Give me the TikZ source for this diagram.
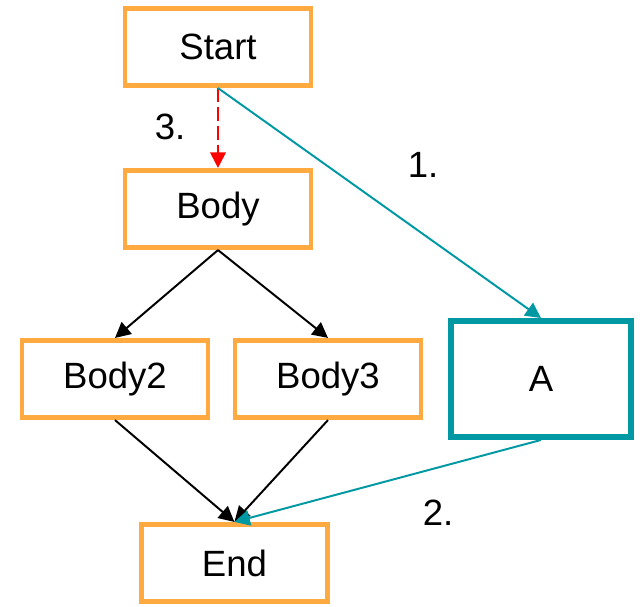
\documentclass[tikz,border=0pt]{standalone}
\usepackage{fontspec}
\setmainfont{Liberation Sans}
\usetikzlibrary{arrows.meta}
\definecolor{boxorange}{RGB}{255,170,64}
\definecolor{lineteal}{RGB}{0,153,163}
\tikzset{
  stepbox/.style={draw=boxorange, line width=3.5pt, rectangle, minimum width=4.65cm, minimum height=1.93cm, font=\fontsize{26}{30}\selectfont},
  flow/.style={line width=1.4pt, -{Triangle[length=11pt,width=11pt]}},
}
\begin{document}
\begin{tikzpicture}

    % 画布范围
    \useasboundingbox (0,0) rectangle (16.05,-15.15);

    % 画方框
    \node[stepbox] (start) at (5.45,-1.175) {Start};
    \node[stepbox] (body) at (5.45,-5.225) {Body};
    \node[stepbox] (body2) at (2.875,-9.475) {Body2};
    \node[stepbox] (body3) at (8.2,-9.475) {Body3};
    \node[stepbox] (end) at (5.86,-14.075) {End};
    \node[stepbox, draw=lineteal, line width=4.2pt, minimum width=4.5cm, minimum height=2.9cm] (a) at (13.525,-9.475) {A};

    % 画箭头
    \draw[flow, red, dash pattern=on 10pt off 3.5pt] (start.south) -- (body.north);
    \draw[flow] (body.south) -- (body2.north);
    \draw[flow] (body.south) -- (body3.north);
    \draw[flow] (body2.south) -- (end.north);
    \draw[flow] (body3.south) -- (end.north);
    \draw[flow, lineteal] (start.south) -- (a.north);
    \draw[flow, lineteal] (a.south) -- (end.north);

    % 插入文字
    \node[font=\fontsize{26}{30}\selectfont] (n3) at (4.25,-3.175) {3.};
    \node[font=\fontsize{26}{30}\selectfont] (n1) at (10.575,-4.125) {1.};
    \node[font=\fontsize{26}{30}\selectfont] (n2) at (10.95,-12.825) {2.};

  \end{tikzpicture}
\end{document}
